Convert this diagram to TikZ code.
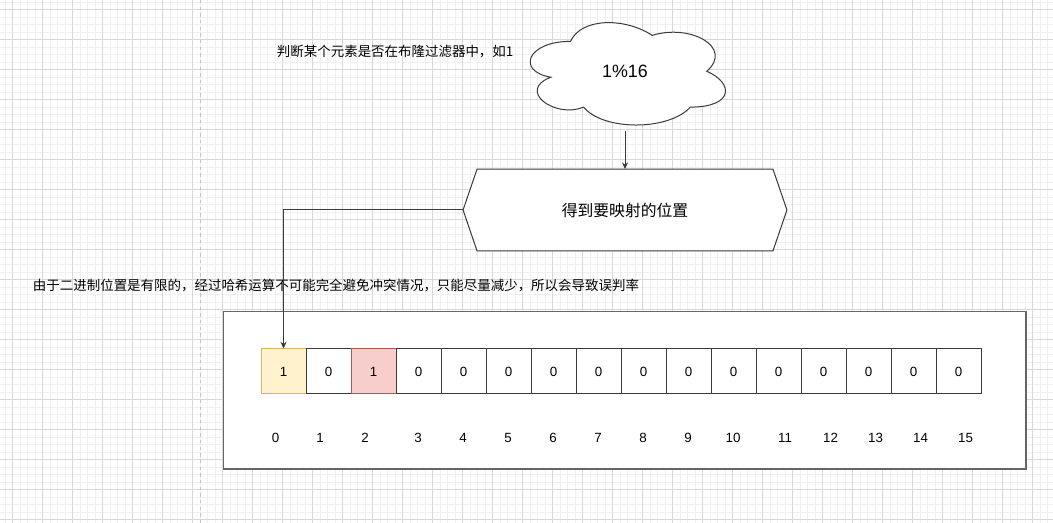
\documentclass[tikz,border=0pt]{standalone}
\usepackage{fontspec}
\setmainfont{Liberation Sans}
\newfontfamily\cjk{Noto Sans CJK SC}
\usetikzlibrary{arrows.meta,positioning,calc}
\definecolor{Ink}{HTML}{3A3A3A}
\definecolor{Edge}{HTML}{666666}
\definecolor{GridMajor}{HTML}{D8D8D8}
\definecolor{GridMinor}{HTML}{F0F0F0}
\definecolor{PageBreak}{HTML}{C4C4C4}
\definecolor{HitFill}{HTML}{FFF2CC}
\definecolor{HitDraw}{HTML}{D6B656}
\definecolor{ClashFill}{HTML}{F8CECC}
\definecolor{ClashDraw}{HTML}{B85450}

\begin{document}
\begin{tikzpicture}[x=0.75pt,y=-0.75pt,>={Stealth[length=5pt,width=4.5pt]},
  bitcell/.style={draw=Ink,fill=white,line width=0.75pt,minimum size=33.75pt,inner sep=0pt,font=\fontsize{10}{12}\selectfont},
  hitcell/.style={bitcell,draw=HitDraw,fill=HitFill},
  clashcell/.style={bitcell,draw=ClashDraw,fill=ClashFill},
  idx/.style={font=\fontsize{10}{12}\selectfont,inner sep=0pt},
  note/.style={font=\cjk\fontsize{10.1}{12}\selectfont,anchor=west,inner sep=0pt},
  shapeline/.style={draw=Ink,fill=white,line width=0.75pt},
  link/.style={->,Ink,line width=0.75pt}]
\useasboundingbox (0,0) rectangle (1053,523);
% canvas grid
\fill[white] (0,0) rectangle (1053,523);
\foreach \gx in {5.2,12.7,...,1053} \draw[GridMinor,line width=0.75pt] (\gx,0) -- (\gx,523);
\foreach \gy in {2.5,10,...,523} \draw[GridMinor,line width=0.75pt] (0,\gy) -- (1053,\gy);
\foreach \gx in {12.7,42.7,...,1053} \draw[GridMajor,line width=0.75pt] (\gx,0) -- (\gx,523);
\foreach \gy in {10,40,...,523} \draw[GridMajor,line width=0.75pt] (0,\gy) -- (1053,\gy);
\draw[PageBreak,line width=1pt,dash pattern=on 2.5pt off 2.5pt] (200.7,0) -- (200.7,523);

% cloud
\begin{scope}[shift={(516,11.5)},xscale=218,yscale=119.5]
\draw[shapeline] (0.25,0.25) .. controls (0.05,0.25) and (0,0.5) .. (0.16,0.55)
  .. controls (0,0.66) and (0.18,0.9) .. (0.31,0.8)
  .. controls (0.4,1) and (0.7,1) .. (0.8,0.8)
  .. controls (1,0.8) and (1,0.6) .. (0.875,0.5)
  .. controls (1,0.3) and (0.8,0.1) .. (0.625,0.2)
  .. controls (0.5,0.05) and (0.3,0.05) .. (0.25,0.25) -- cycle;
\end{scope}
\node[font=\fontsize{13.4}{16}\selectfont] (mod) at (625,71) {1\%16};
\coordinate (cloudbase) at (625,131);

\node[note] (query) at (276.7,52) {判断某个元素是否在布隆过滤器中，如1};

% hexagon
\node[minimum width=242.5pt,minimum height=61pt,inner sep=0pt] (hex) at (625,210) {};
\draw[shapeline] (hex.west) -- ($(hex.north west)+(14,0)$) -- ($(hex.north east)+(-14,0)$)
  -- (hex.east) -- ($(hex.south east)+(-14,0)$) -- ($(hex.south west)+(14,0)$) -- cycle;
\node[font=\cjk\fontsize{11.85}{14}\selectfont] (pos) at (hex.center) {得到要映射的位置};
\draw[link] (cloudbase) -- (hex.north);

\node[note] (remark) at (32.7,285.5) {由于二进制位置是有限的，经过哈希运算不可能完全避免冲突情况，只能尽量减少，所以会导致误判率};

% bit array
\draw[Edge,fill=white,line width=1pt] (223.3,311.7) rectangle (1026,469);
\foreach \i/\v/\s in {0/1/hitcell,1/0/bitcell,2/1/clashcell,3/0/bitcell,4/0/bitcell,5/0/bitcell,6/0/bitcell,7/0/bitcell,8/0/bitcell,9/0/bitcell,10/0/bitcell,11/0/bitcell,12/0/bitcell,13/0/bitcell,14/0/bitcell,15/0/bitcell}
  \node[\s] (c\i) at (283.5+45*\i,371.5) {\v};
\foreach \i/\px in {0/275.7,1/320,2/365,3/418,4/463,5/508,6/553,7/598,8/643,9/688,10/733,11/785,12/830.5,13/875.5,14/920.5,15/965.5}
  \node[idx] (n\i) at (\px,438) {\i};

\draw[link] (hex.west) -| (c0.north);
\end{tikzpicture}
\end{document}
